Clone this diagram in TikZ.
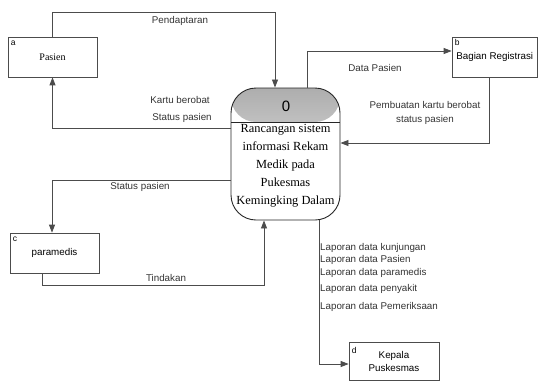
\documentclass[tikz,border=0pt]{standalone}
\usepackage{fontspec}
\setmainfont{Liberation Serif}
\setsansfont{Liberation Sans}
\usetikzlibrary{shapes,arrows,arrows.meta,positioning}

\begin{document}
\begin{tikzpicture}[x=1pt, y=-1pt,
    entity/.style={rectangle, draw=black!70, line width=0.7pt, minimum width=89pt, minimum height=40pt, inner sep=0pt, align=center, font=\sffamily\fontsize{9.8}{13}\selectfont},
    tag/.style={anchor=north west, inner sep=0pt, font=\sffamily\fontsize{8.5}{9}\selectfont},
    proc/.style={rectangle, rounded corners=25pt, draw=black!85, line width=0.9pt, minimum width=109pt, minimum height=132pt, inner sep=0pt},
    flow/.style={draw=black!70, line width=0.8pt, -{Triangle[length=8pt,width=6pt]}},
    lbl/.style={inner sep=0pt, text=black!80, font=\sffamily\fontsize{9.8}{14}\selectfont}
]
    \useasboundingbox (0,0) rectangle (538,381);

    % external entities
    \node (pasien) [entity, font=\rmfamily\fontsize{10}{12}\selectfont] at (52.5,57) {Pasien};
    \node (bagian) [entity, minimum width=85.5pt] at (494.75,57) {Bagian Registrasi};
    \node (paramedis) [entity] at (54.5,253) {paramedis};
    \node (kepala) [entity, minimum width=90pt, minimum height=38.5pt] at (394,361.25) {Kepala\\Puskesmas};
    \node [tag] at ([shift={(3pt,-4pt)}]pasien.north west) {a};
    \node [tag] at ([shift={(3pt,-2pt)}]bagian.north west) {b};
    \node [tag] at ([shift={(3pt,-4pt)}]paramedis.north west) {c};
    \node [tag] at ([shift={(3pt,-5pt)}]kepala.north west) {d};

    % process 0
    \node (proc) [proc, path picture={
        \shade[top color=black!32, bottom color=black!4] (path picture bounding box.north west) rectangle ([yshift=-34pt]path picture bounding box.north east);
        \draw[black!85, line width=0.9pt] ([yshift=-34pt]path picture bounding box.north west) -- ([yshift=-34pt]path picture bounding box.north east);
    }] at (285.5,154) {};
    \node (pnum) [font=\sffamily\fontsize{15}{15}\selectfont] at (286,106) {0};
    \node (ptext) [align=center, inner sep=0pt, font=\rmfamily\fontsize{12.4}{18}\selectfont] at (285.5,166) {Rancangan sistem\\informasi Rekam\\Medik pada\\Pukesmas\\Kemingking Dalam};

    % data flows
    \draw [flow] (pasien.north) |- (275,12) -- (proc.north -| 275,0);
    \draw [flow] (proc.west |- 0,128) -| (pasien.south);
    \draw [flow] (proc.north -| 307,0) |- (bagian.west |- 0,51);
    \draw [flow] (bagian.south -| 489,0) |- (proc.east |- 0,143);
    \draw [flow] (proc.west |- 0,180) -| (paramedis.north -| 52,0);
    \draw [flow] (paramedis.south -| 42,0) |- (264,285) -- (proc.south -| 264,0);
    \draw [flow] (proc.south -| 319,0) |- (kepala.west |- 0,364);

    % flow labels
    \node [lbl] at (180,21) {Pendaptaran};
    \node [lbl] at (180,100) {Kartu berobat};
    \node [lbl] at (182,118) {Status pasien};
    \node [lbl] at (375,68) {Data Pasien};
    \node [lbl, align=center] at (425,113) {Pembuatan kartu berobat\\status pasien};
    \node [lbl] at (140,187) {Status pasien};
    \node [lbl] at (166,278) {Tindakan};
    \node [lbl, anchor=west] at (320,248) {Laporan data kunjungan};
    \node [lbl, anchor=west] at (320,260) {Laporan data Pasien};
    \node [lbl, anchor=west] at (320,273) {Laporan data paramedis};
    \node [lbl, anchor=west] at (320,289) {Laporan data penyakit};
    \node [lbl, anchor=west] at (320,307) {Laporan data Pemeriksaan};
\end{tikzpicture}
\end{document}
